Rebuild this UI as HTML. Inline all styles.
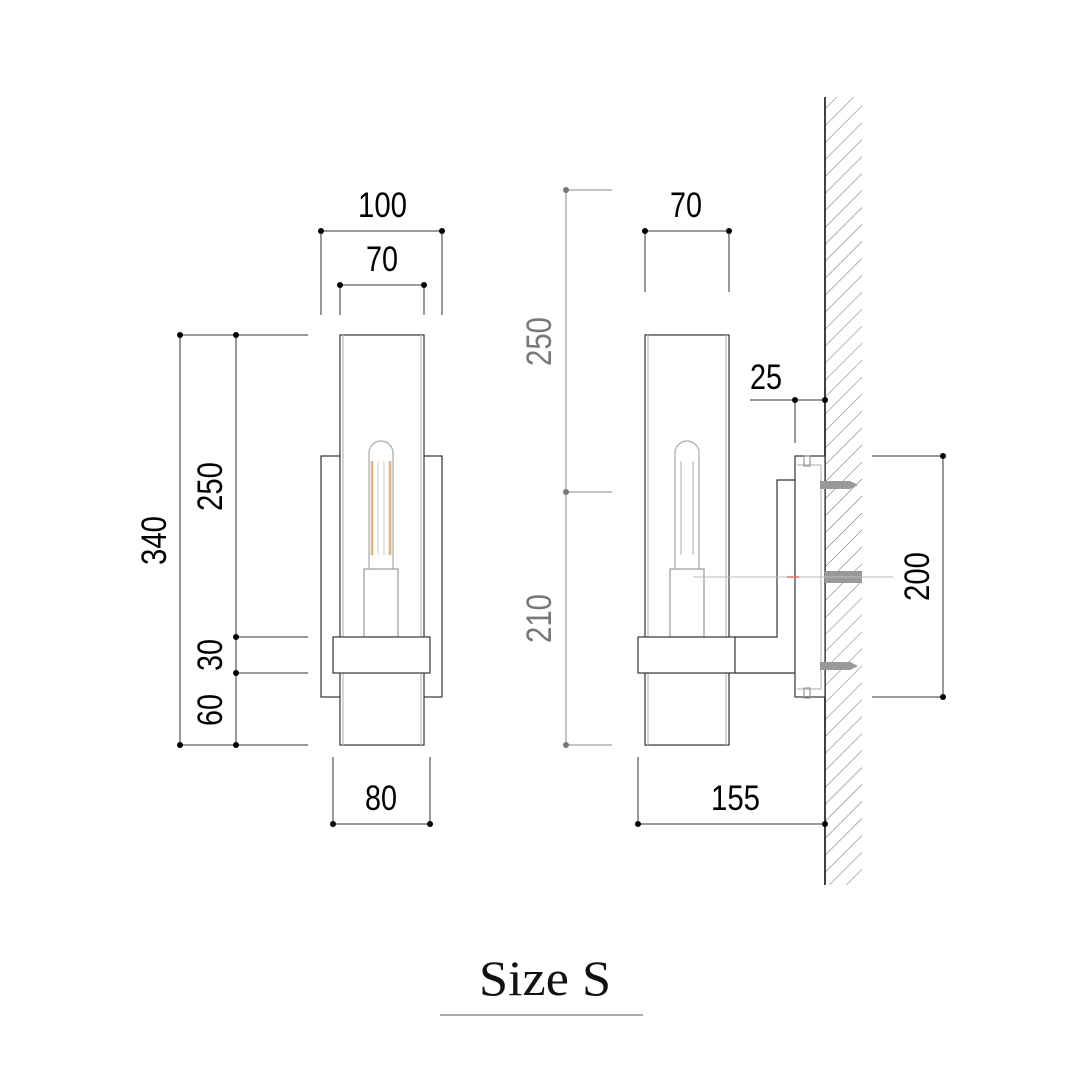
<!DOCTYPE html>
<html><head><meta charset="utf-8"><style>html,body{margin:0;padding:0;background:#fff}svg{display:block}</style></head><body>
<svg width="1090" height="1090" viewBox="0 0 1090 1090" xmlns="http://www.w3.org/2000/svg">
<defs>
<pattern id="h" patternUnits="userSpaceOnUse" width="12" height="12" patternTransform="rotate(45)"><line x1="0" y1="0" x2="0" y2="12" stroke="#444" stroke-width="0.8"/></pattern>
</defs>
<g font-family="Liberation Sans, sans-serif" font-size="35" fill="#000">
<!-- LEFT VIEW -->
<g fill="none" stroke="#333" stroke-width="1.2">
<rect x="321" y="456" width="121" height="241" fill="#fff"/>
<rect x="340" y="335" width="84" height="410" fill="#fff"/>
<line x1="343" y1="335" x2="343" y2="745" stroke="#bbb"/>
<line x1="421" y1="335" x2="421" y2="745" stroke="#bbb"/>
<rect x="364" y="569" width="34" height="68" stroke="#999"/>
<path d="M369 569 V453 a12 12 0 0 1 24 0 V569" stroke="#aaa"/>
<line x1="372" y1="461" x2="372" y2="555" stroke="#e8b27a" stroke-width="2.5"/>
<line x1="390" y1="461" x2="390" y2="555" stroke="#e8b27a" stroke-width="2.5"/>
<line x1="378" y1="461" x2="378" y2="555" stroke="#bbb" stroke-width="0.8"/>
<line x1="384" y1="461" x2="384" y2="555" stroke="#bbb" stroke-width="0.8"/>
<rect x="333" y="637" width="97" height="36" fill="#fff"/>
</g>
<g stroke="#333" stroke-width="1">
<line x1="321" y1="231" x2="442" y2="231"/><line x1="321" y1="231" x2="321" y2="315"/><line x1="442" y1="231" x2="442" y2="315"/>
<line x1="340" y1="285" x2="424" y2="285"/><line x1="340" y1="285" x2="340" y2="315"/><line x1="424" y1="285" x2="424" y2="315"/>
<line x1="180" y1="335" x2="308" y2="335"/><line x1="180" y1="745" x2="308" y2="745"/>
<line x1="236" y1="637" x2="308" y2="637"/><line x1="236" y1="673" x2="308" y2="673"/>
<line x1="180" y1="335" x2="180" y2="745"/><line x1="236" y1="335" x2="236" y2="745"/>
<line x1="333" y1="757" x2="333" y2="824"/><line x1="430" y1="757" x2="430" y2="824"/><line x1="333" y1="824" x2="430" y2="824"/>
</g>
<g>
<circle cx="321" cy="231" r="3"/><circle cx="442" cy="231" r="3"/><circle cx="340" cy="285" r="3"/><circle cx="424" cy="285" r="3"/>
<circle cx="180" cy="335" r="3"/><circle cx="236" cy="335" r="3"/><circle cx="180" cy="745" r="3"/><circle cx="236" cy="745" r="3"/>
<circle cx="236" cy="637" r="3"/><circle cx="236" cy="673" r="3"/><circle cx="333" cy="824" r="3"/><circle cx="430" cy="824" r="3"/>
</g>
<text x="358" y="217" textLength="49" lengthAdjust="spacingAndGlyphs">100</text>
<text x="366" y="271" textLength="32" lengthAdjust="spacingAndGlyphs">70</text>
<text x="365" y="810" textLength="32" lengthAdjust="spacingAndGlyphs">80</text>
<text transform="translate(166,565) rotate(-90)" textLength="49" lengthAdjust="spacingAndGlyphs">340</text>
<text transform="translate(222,511) rotate(-90)" textLength="49" lengthAdjust="spacingAndGlyphs">250</text>
<text transform="translate(222,671) rotate(-90)" textLength="32" lengthAdjust="spacingAndGlyphs">30</text>
<text transform="translate(222,726) rotate(-90)" textLength="32" lengthAdjust="spacingAndGlyphs">60</text>

<!-- RIGHT VIEW -->
<rect x="825" y="97" width="37" height="788" fill="url(#h)"/>
<line x1="825" y1="97" x2="825" y2="885" stroke="#000" stroke-width="1.5"/>
<g fill="none" stroke="#333" stroke-width="1.2">
<path d="M735 637 H777 V480 H795 M735 673 H795" />
<rect x="795" y="456" width="30" height="241" fill="#fff"/>
<path d="M797 465 H821 V689 H797" stroke="#bbb"/>
<rect x="645" y="335" width="84" height="410" fill="#fff"/>
<line x1="648" y1="335" x2="648" y2="745" stroke="#bbb"/>
<line x1="726" y1="335" x2="726" y2="745" stroke="#bbb"/>
<rect x="670" y="569" width="34" height="68" stroke="#999"/>
<path d="M675 569 V453 a12 12 0 0 1 24 0 V569" stroke="#aaa"/>
<line x1="681" y1="461" x2="681" y2="555" stroke="#bbb"/><line x1="693" y1="461" x2="693" y2="555" stroke="#bbb"/>
<rect x="638" y="637" width="97" height="36" fill="#fff"/>
<rect x="804" y="456" width="6" height="10" stroke="#999"/><rect x="804" y="688" width="6" height="10" stroke="#999"/>
</g>
<rect x="825" y="571" width="37" height="12" fill="#999"/>
<path d="M820 481 h30 l8 4 l-8 4 h-30 z" fill="#999"/>
<path d="M820 662 h30 l8 4 l-8 4 h-30 z" fill="#999"/>
<line x1="693" y1="577" x2="893" y2="577" stroke="#bbb" stroke-width="1"/>
<line x1="787" y1="577" x2="799" y2="577" stroke="#f66" stroke-width="1.5"/>
<g stroke="#333" stroke-width="1">
<line x1="645" y1="231" x2="729" y2="231"/><line x1="645" y1="231" x2="645" y2="292"/><line x1="729" y1="231" x2="729" y2="292"/>
<line x1="750" y1="400" x2="825" y2="400"/><line x1="795" y1="400" x2="795" y2="443"/>
<line x1="872" y1="456" x2="943" y2="456"/><line x1="872" y1="697" x2="943" y2="697"/><line x1="943" y1="456" x2="943" y2="697"/>
<line x1="638" y1="757" x2="638" y2="824"/><line x1="638" y1="824" x2="825" y2="824"/>
</g>
<g stroke="#888" stroke-width="1">
<line x1="566" y1="190" x2="566" y2="745"/>
<line x1="566" y1="190" x2="612" y2="190"/><line x1="566" y1="492" x2="612" y2="492"/><line x1="566" y1="745" x2="612" y2="745"/>
</g>
<g fill="#777"><circle cx="566" cy="190" r="3"/><circle cx="566" cy="492" r="3"/><circle cx="566" cy="745" r="3"/></g>
<g>
<circle cx="645" cy="231" r="3"/><circle cx="729" cy="231" r="3"/><circle cx="795" cy="400" r="3"/><circle cx="825" cy="400" r="3"/>
<circle cx="943" cy="456" r="3"/><circle cx="943" cy="697" r="3"/><circle cx="638" cy="824" r="3"/><circle cx="825" cy="824" r="3"/>
</g>
<text x="670" y="217" textLength="32" lengthAdjust="spacingAndGlyphs">70</text>
<text x="750" y="389" textLength="32" lengthAdjust="spacingAndGlyphs">25</text>
<text x="711" y="810" textLength="49" lengthAdjust="spacingAndGlyphs">155</text>
<text transform="translate(929,601) rotate(-90)" textLength="49" lengthAdjust="spacingAndGlyphs">200</text>
<text fill="#777" transform="translate(551,366) rotate(-90)" textLength="49" lengthAdjust="spacingAndGlyphs">250</text>
<text fill="#777" transform="translate(551,643) rotate(-90)" textLength="49" lengthAdjust="spacingAndGlyphs">210</text>
</g>
<text x="545" y="995" text-anchor="middle" font-family="Liberation Serif, serif" font-size="50" fill="#111" textLength="132" lengthAdjust="spacingAndGlyphs">Size S</text>
<line x1="440" y1="1015" x2="643" y2="1015" stroke="#555" stroke-width="1"/>
</svg>
</body></html>
